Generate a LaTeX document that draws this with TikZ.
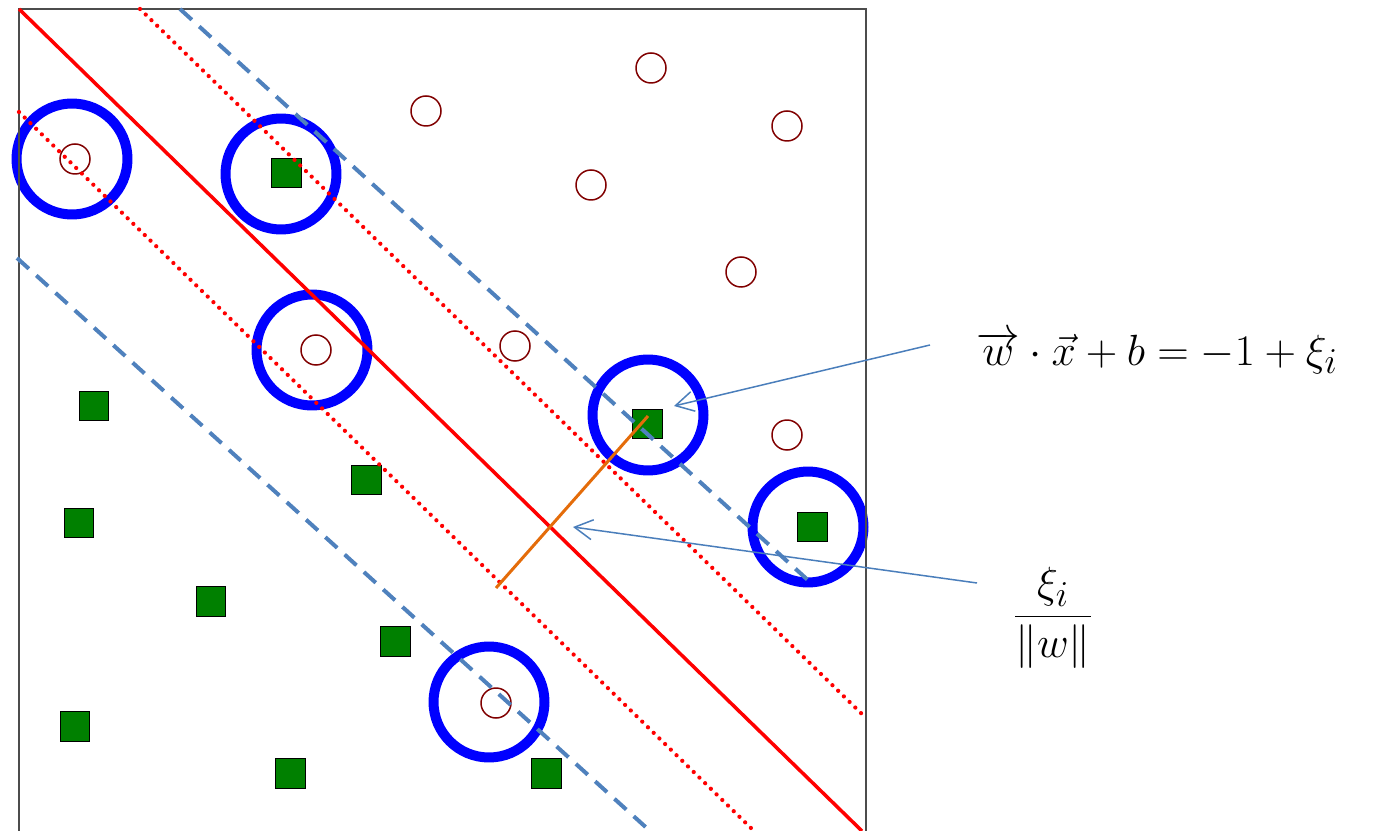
\documentclass[tikz,border=0pt]{standalone}
\usetikzlibrary{arrows.meta}
\definecolor{ringblue}{RGB}{0,0,255}
\definecolor{ptred}{RGB}{128,0,0}
\definecolor{ptgreen}{RGB}{0,128,0}
\definecolor{marginblue}{RGB}{79,129,189}
\definecolor{arrowblue}{RGB}{74,126,187}
\definecolor{slackorange}{RGB}{228,108,10}
\begin{document}
\begin{tikzpicture}[x=0.02cm,y=-0.02cm,
  ring/.style={circle, draw=ringblue, line width=0.2cm, minimum size=2.22cm, inner sep=0pt},
  pospt/.style={circle, draw=ptred, line width=0.03cm, minimum size=0.6cm, inner sep=0pt},
  negpt/.style={rectangle, draw=black, fill=ptgreen, line width=0.02cm, minimum size=0.6cm, inner sep=0pt},
  hyper/.style={red, line width=0.07cm},
  marginline/.style={red, line width=0.085cm, dash pattern=on 0pt off 0.16cm, line cap=round},
  supp/.style={marginblue, line width=0.08cm, dash pattern=on 0.32cm off 0.2cm},
  slack/.style={slackorange, line width=0.06cm},
  callout/.style={arrowblue, line width=0.03cm, -{Straight Barb[length=0.36cm,width=0.4cm]}},
  framestyle/.style={black!70, line width=0.025cm},
  lbl/.style={font=\fontsize{30pt}{34pt}\selectfont, inner sep=0pt}
]
\useasboundingbox (0,0) rectangle (1373,831);

% support-vector rings
\node[ring] (r1) at (72,159) {};
\node[ring] (r2) at (281,174) {};
\node[ring] (r3) at (312,350) {};
\node[ring] (r4) at (648,415) {};
\node[ring] (r5) at (808,527) {};
\node[ring] (r6) at (489,702) {};

% class +1 points (circles)
\node[pospt] (p1) at (75,159) {};
\node[pospt] (p2) at (426,111) {};
\node[pospt] (p3) at (651,68) {};
\node[pospt] (p4) at (787,126) {};
\node[pospt] (p5) at (591,185) {};
\node[pospt] (p6) at (741,272) {};
\node[pospt] (p7) at (316,350) {};
\node[pospt] (p8) at (515,346) {};
\node[pospt] (p9) at (787,435) {};
\node[pospt] (p10) at (496,703) {};

% class -1 points (squares)
\node[negpt] (n1) at (286,173) {};
\node[negpt] (n2) at (94,406) {};
\node[negpt] (n3) at (366,480) {};
\node[negpt] (n4) at (79,523) {};
\node[negpt] (n5) at (211,601) {};
\node[negpt] (n6) at (395,641) {};
\node[negpt] (n7) at (75,726) {};
\node[negpt] (n8) at (290,773) {};
\node[negpt] (n9) at (546,773) {};
\node[negpt] (n10) at (647,424) {};
\node[negpt] (n11) at (812,527) {};

% frame
\draw[framestyle] (19,831) -- (19,9) -- (866,9) -- (866,831);

% endpoints of lines
\coordinate (h1) at (19,9);
\coordinate (h2) at (862,831);
\coordinate (m1a) at (140,9);
\coordinate (m1b) at (866,718);
\coordinate (m2a) at (19,112);
\coordinate (m2b) at (754,831);
\coordinate (s1a) at (180,9);
\coordinate (s1b) at (810,582);
\coordinate (s2a) at (17,258);
\coordinate (s2b) at (650,831);
\coordinate (o1) at (496,588);
\coordinate (o2) at (648,416);

\draw[marginline] (m1a) -- (m1b);
\draw[marginline] (m2a) -- (m2b);
\draw[supp] (s1a) -- (s1b);
\draw[supp] (s2a) -- (s2b);
\draw[hyper] (h1) -- (h2);
\draw[slack] (o1) -- (o2);

% labels
\node[lbl, anchor=base] (eq) at (1157,365) {$\overrightarrow{w}\cdot\vec{x}+b=-1+\xi_i$};
\node[lbl] (fr) at (1053,618) {$\displaystyle\frac{\xi_i}{\Vert w\Vert}$};

\coordinate (a1s) at (930,345);
\coordinate (a1e) at (674,406);
\coordinate (a2s) at (977,583);
\coordinate (a2e) at (573,527);
\draw[callout] (a1s) -- (a1e);
\draw[callout] (a2s) -- (a2e);
\end{tikzpicture}
\end{document}
